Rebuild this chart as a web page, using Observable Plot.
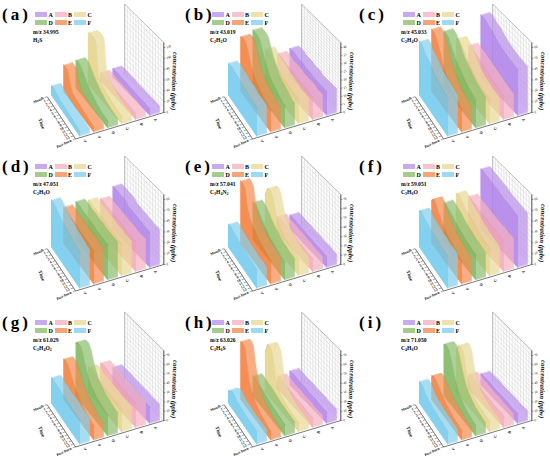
<!DOCTYPE html>
<html><head><meta charset="utf-8">
<script src="https://cdn.jsdelivr.net/npm/d3@7"></script>
<script src="https://cdn.jsdelivr.net/npm/@observablehq/plot@0.6"></script>
<style>
body{margin:0;background:#fff;}
#root{position:relative;width:550px;height:463px;overflow:hidden;font-family:"Liberation Serif",serif;}
.panel{position:absolute;width:184px;height:156px;}
.panel svg{position:absolute;left:0;top:0;overflow:visible;}
.plab{position:absolute;font-family:"Liberation Serif",serif;font-weight:bold;font-size:17px;letter-spacing:3px;line-height:17px;white-space:nowrap;}
.sw{position:absolute;width:12px;height:5px;}
.swt{position:absolute;font-size:6px;font-weight:bold;line-height:6px;}
.mz{position:absolute;font-size:5.6px;font-weight:bold;line-height:6px;white-space:nowrap;}
.mz sub{font-size:4px;vertical-align:-1px;line-height:0;}
</style></head><body><div id="root"></div>
<script>
// ---------------- data ----------------
const series = ["A","B","C","D","E","F"];
const seriesColors = ["#a56fe6","#f39aae","#e2cd76","#69aa44","#f2681a","#5cc1ea"];
const timeLabels = ["Mouth","1","2","3","4","5","6","7","8","9","10","11","12","13","Post-burn"];
const panelLetters = ["a","b","c","d","e","f","g","h","i"];
const mzValues = ["34.995","43.019","45.033","47.051","57.041","59.051","61.029","63.026","71.050"];
const formulas = ["H_2S","C_2H_2O","C_2H_4O","C_2H_6O","C_3H_4N_2","C_3H_6O","C_2H_4O_2","C_2H_6S","C_4H_6O"];
const zTitle = "concentration (ppbv)";

const ticksA = [0,20,40,60,80,100,120];
const ticksB = [0,5,10,15,20,25,30,35,40];
const ticksC = [0,10,20,30,40,50,60];
const ticksD = [0,10,20,30,40,50,60];
const ticksE = [0,10,20,30,40,50,60,70];
const ticksF = [0,10,20,30,40,50,60];
const ticksG = [0,10,20,30,40,50,60,70];
const ticksH = [0,10,20,30,40,50,60,70];
const ticksI = [0,10,20,30,40,50,60,70];

// each panel: rows A..F, 15 time points from "Mouth" (back) to "Post-burn" (front)
const valsA = [
  [17,17,17,16,16,16,15,15,15,14,14,14,14,13,13],
  [16,16,16,15,15,15,14,14,14,13,13,13,12,12,12],
  [96,98,98,96,40,32,28,25,22,20,18,17,16,15,14],
  [52,54,52,46,40,34,30,26,23,20,18,16,15,14,13],
  [50,50,48,30,20,18,17,16,15,14,13,12,12,11,11],
  [18,20,18,16,15,14,14,13,13,12,12,11,11,10,10]];
const valsB = [
  [18,18,18,17,17,17,16,16,16,15,15,15,15,15,15],
  [17,17,17,16,16,16,16,15,15,15,15,15,14,14,14],
  [22,22,21,20,20,19,18,17,17,16,16,15,15,15,15],
  [36,36,36,35,31,27,24,21,19,18,17,16,15,14,14],
  [34,35,35,33,28,24,21,19,18,17,16,15,15,14,14],
  [20,20,21,20,20,20,19,19,19,19,18,18,18,18,18]];
const valsC = [
  [58,58,57,55,54,52,50,48,47,46,45,44,44,43,43],
  [33,33,32,32,31,30,29,28,27,26,25,24,23,22,22],
  [42,44,42,40,37,34,31,29,27,26,25,24,23,23,22],
  [53,53,52,48,44,40,38,36,34,32,30,29,28,27,26],
  [58,58,56,52,46,40,36,32,29,27,25,24,23,22,21],
  [50,50,48,46,45,44,42,40,39,38,38,37,37,36,36]];
const valsD = [
  [40,40,40,39,39,38,36,36,35,35,34,34,33,33,33],
  [32,32,31,31,31,30,30,30,29,29,29,28,28,28,28],
  [34,34,33,33,33,32,32,32,31,31,31,30,30,30,30],
  [36,36,36,35,35,35,34,34,34,33,33,33,33,33,33],
  [34,34,34,33,33,33,33,32,32,32,32,32,31,31,31],
  [44,44,43,41,40,39,38,38,37,36,36,35,35,34,34]];
const valsE = [
  [16,16,16,15,15,15,14,14,14,13,13,13,13,12,12],
  [18,18,17,17,17,16,16,16,15,15,15,14,14,14,14],
  [45,55,56,52,40,32,28,25,23,22,21,20,19,19,18],
  [41,41,40,37,34,31,29,27,25,24,23,22,21,21,20],
  [68,68,66,50,42,38,35,33,31,30,29,28,27,26,25],
  [25,26,25,24,24,23,23,22,22,22,21,21,21,21,20]];
const valsF = [
  [56,56,55,55,54,53,53,52,51,50,50,49,49,48,48],
  [34,34,33,33,32,32,31,31,30,30,30,30,29,29,29],
  [40,41,39,37,35,34,33,31,30,29,28,27,26,26,25],
  [35,35,34,33,32,30,29,28,27,26,25,25,24,24,23],
  [40,44,42,38,35,32,30,28,27,26,25,24,23,22,22],
  [34,36,34,33,33,32,32,31,31,31,30,30,30,30,30]];
const valsG = [
  [20,20,20,20,20,19,19,19,19,19,19,18,18,18,18],
  [28,29,29,28,28,28,27,27,27,27,26,26,26,26,26],
  [28,28,28,27,27,27,26,26,26,26,25,25,25,25,25],
  [58,60,60,55,46,39,34,31,29,27,26,25,24,23,23],
  [44,45,44,40,35,30,27,24,22,20,19,18,17,16,16],
  [28,29,28,28,28,27,27,27,27,27,26,26,26,26,26]];
const valsH = [
  [16,16,16,15,15,15,15,14,14,14,14,13,13,13,13],
  [14,14,14,13,13,13,13,12,12,12,12,11,11,11,11],
  [44,55,55,50,30,22,18,16,14,13,12,11,11,10,10],
  [22,22,21,20,20,19,18,17,16,15,15,14,14,13,13],
  [63,64,62,45,32,25,21,18,16,14,13,12,11,10,10],
  [14,16,19,18,16,15,15,15,14,14,14,14,14,14,14]];
const valsI = [
  [13,13,13,13,13,12,12,12,12,12,12,11,11,11,11],
  [16,16,16,15,15,15,14,14,14,14,13,13,13,13,12],
  [46,54,55,50,34,26,21,18,16,15,14,13,12,12,11],
  [56,58,57,50,40,32,26,22,19,17,15,14,13,12,12],
  [26,28,27,25,22,20,18,16,15,14,13,12,12,11,11],
  [24,24,23,20,18,17,17,16,16,15,15,15,14,14,14]];

const panelVals = [valsA,valsB,valsC,valsD,valsE,valsF,valsG,valsH,valsI];
const panelTicks = [ticksA,ticksB,ticksC,ticksD,ticksE,ticksF,ticksG,ticksH,ticksI];

// ---------------- layout / projection ----------------
const W = 184, H = 156;
const colX = [0, 177, 368], rowY = [0, 152, 308];
const labX = [2, 185, 359];
const GEO = {xb0:51, xbs:12.3, xf0:80, xfs:14, yb0:95, ybs:-3.6, yf0:137, yfs:-4.2,
             zpx:65, wallS:5.95, wallH:70, thick:0.7, layers:10, axisS:-0.35};
function X(s,t){const xb=GEO.xb0+GEO.xbs*s, xf=GEO.xf0+GEO.xfs*s; return xb+(xf-xb)*t;}
function Y(s,t,z,top){const yb=GEO.yb0+GEO.ybs*s, yf=GEO.yf0+GEO.yfs*s; return yb+(yf-yb)*t - z/top*GEO.zpx;}

function lighter(c,a){return d3.color(d3.interpolateRgb(c,"#ffffff")(a)).formatHex();}
function darker(c){return d3.color(c).darker(0.7).formatHex();}

function buildPlot(vals, ticks){
  const zTop = ticks[ticks.length-1];
  const zWall = zTop*GEO.wallH/GEO.zpx;
  const S = GEO.wallS, AX = GEO.axisS;
  const n = timeLabels.length;
  const tPos = timeLabels.map((_,i)=>i/(n-1));
  const gridZ = d3.ticks(0, zWall, 14);
  const marks = [];
  // back wall with grid
  marks.push(Plot.link(tPos,{x1:t=>X(S,t),x2:t=>X(S,t),y1:t=>Y(S,t,0,zTop),y2:t=>Y(S,t,zWall,zTop),stroke:"#d0d0d0",strokeWidth:0.5}));
  marks.push(Plot.link(gridZ,{x1:()=>X(S,0),x2:()=>X(S,1),y1:z=>Y(S,0,z,zTop),y2:z=>Y(S,1,z,zTop),stroke:"#d0d0d0",strokeWidth:0.5}));
  marks.push(Plot.link([0,1],{x1:t=>X(S,t),x2:t=>X(S,t),y1:t=>Y(S,t,0,zTop),y2:t=>Y(S,t,zWall,zTop),stroke:"#999",strokeWidth:0.6}));
  marks.push(Plot.link([zWall],{x1:()=>X(S,0),x2:()=>X(S,1),y1:z=>Y(S,0,z,zTop),y2:z=>Y(S,1,z,zTop),stroke:"#999",strokeWidth:0.6}));
  // ribbons as solid slabs, farthest (A) first
  series.forEach((name,k)=>{
    const s = series.length-1-k;
    const rows = [];
    for (let j=0;j<=GEO.layers;j++){
      const ds = GEO.thick*(GEO.layers-j)/GEO.layers; // far layers first
      vals[k].forEach((v,i)=>rows.push({j, ss:s+ds, t:tPos[i], v}));
    }
    const base = seriesColors[k], top = lighter(base,0.25);
    const near = rows.filter(d=>d.j===GEO.layers), far = rows.filter(d=>d.j===0);
    marks.push(Plot.areaY(rows,{x:d=>X(d.ss,d.t),y1:d=>Y(d.ss,d.t,0,zTop),y2:d=>Y(d.ss,d.t,d.v,zTop),
      z:d=>d.j, fill:top, ariaDescription:"slab"}));
    marks.push(Plot.areaY(near,{x:d=>X(d.ss,d.t),y1:d=>Y(d.ss,d.t,0,zTop),y2:d=>Y(d.ss,d.t,d.v,zTop),
      fill:base, fillOpacity:0.45}));
    marks.push(Plot.line(near,{x:d=>X(d.ss,d.t),y:d=>Y(d.ss,d.t,d.v,zTop),stroke:darker(base),strokeOpacity:0.45,strokeWidth:0.4}));
    marks.push(Plot.line(far,{x:d=>X(d.ss,d.t),y:d=>Y(d.ss,d.t,d.v,zTop),stroke:darker(base),strokeOpacity:0.3,strokeWidth:0.4}));
  });
  // time axis
  marks.push(Plot.link([0],{x1:()=>X(AX,0),y1:()=>Y(AX,0,0,zTop),x2:()=>X(AX,1),y2:()=>Y(AX,1,0,zTop),stroke:"#222",strokeWidth:0.6}));
  marks.push(Plot.link(tPos,{x1:t=>X(AX,t),y1:t=>Y(AX,t,0,zTop),x2:t=>X(AX-0.2,t),y2:t=>Y(AX-0.2,t,0,zTop),stroke:"#222",strokeWidth:0.4}));
  marks.push(Plot.text(timeLabels,{x:(d,i)=>X(AX-0.3,tPos[i]),y:(d,i)=>Y(AX-0.3,tPos[i],0,zTop),text:d=>d,textAnchor:"end",fontSize:3.8,fontWeight:"bold",rotate:-25,fill:"#111"}));
  marks.push(Plot.text(["Time"],{x:()=>X(AX-1.5,0.5),y:()=>Y(AX-1.5,0.5,0,zTop),text:d=>d,fontSize:5,fontWeight:"bold",rotate:70,fill:"#111"}));
  // series axis along the front edge
  marks.push(Plot.link([0],{x1:()=>X(AX,1),y1:()=>Y(AX,1,0,zTop),x2:()=>X(S,1),y2:()=>Y(S,1,0,zTop),stroke:"#222",strokeWidth:0.6}));
  marks.push(Plot.text(series,{x:(d,k)=>X(series.length-1-k+GEO.thick/2,1),y:(d,k)=>Y(series.length-1-k+GEO.thick/2,1,0,zTop)+5,text:d=>d,fontSize:4,fontWeight:"bold",rotate:-70,fill:"#111"}));
  // z axis at front of wall
  marks.push(Plot.link([0],{x1:()=>X(S,1),y1:()=>Y(S,1,0,zTop),x2:()=>X(S,1),y2:()=>Y(S,1,zWall,zTop),stroke:"#222",strokeWidth:0.6}));
  marks.push(Plot.link(ticks,{x1:()=>X(S,1),y1:z=>Y(S,1,z,zTop),x2:()=>X(S,1)+1.6,y2:z=>Y(S,1,z,zTop),stroke:"#222",strokeWidth:0.4}));
  marks.push(Plot.text(ticks,{x:()=>X(S,1)+2.5,y:z=>Y(S,1,z,zTop),text:d=>String(d),textAnchor:"start",fontSize:3.4,rotate:-20,fill:"#222"}));
  marks.push(Plot.text([zTitle],{x:()=>X(S,1)+10.5,y:()=>Y(S,1,zTop*0.48,zTop),text:d=>d,fontSize:6.8,fontWeight:"bold",fontStyle:"italic",rotate:92,fill:"#111"}));
  const svg = Plot.plot({
    width:W, height:H, margin:0,
    x:{domain:[0,W], range:[0,W], axis:null},
    y:{domain:[0,H], range:[0,H], axis:null},
    style:{fontFamily:"Liberation Serif, serif", background:"transparent", overflow:"visible"},
    marks
  });
  svg.querySelectorAll('g[aria-description="slab"]').forEach(g=>g.setAttribute("opacity","0.72"));
  return svg;
}

function formulaHTML(f){return f.replace(/_(\d)/g,"<sub>$1</sub>");}

const root = document.getElementById("root");
panelLetters.forEach((L,p)=>{
  const col = p%3, row = Math.floor(p/3);
  const div = document.createElement("div");
  div.className = "panel";
  div.style.left = colX[col]+"px"; div.style.top = rowY[row]+"px";
  div.appendChild(buildPlot(panelVals[p], panelTicks[p]));
  series.forEach((name,k)=>{
    const r = Math.floor(k/3), c = k%3;
    const sw = document.createElement("div");
    sw.className = "sw";
    sw.style.left = (35+c*19.5)+"px"; sw.style.top = (12+r*8)+"px";
    sw.style.background = seriesColors[k]; sw.style.opacity = 0.6;
    div.appendChild(sw);
    const tx = document.createElement("div");
    tx.className = "swt"; tx.textContent = name;
    tx.style.left = (48.5+c*19.5)+"px"; tx.style.top = (11.5+r*8)+"px";
    div.appendChild(tx);
  });
  const mz = document.createElement("div");
  mz.className = "mz"; mz.textContent = "m/z " + mzValues[p];
  mz.style.left = "33px"; mz.style.top = "29px";
  div.appendChild(mz);
  const fm = document.createElement("div");
  fm.className = "mz"; fm.innerHTML = formulaHTML(formulas[p]);
  fm.style.left = "33px"; fm.style.top = "37px";
  div.appendChild(fm);
  root.appendChild(div);
  const lab = document.createElement("div");
  lab.className = "plab"; lab.textContent = "(" + L + ")";
  lab.style.left = labX[col]+"px"; lab.style.top = (rowY[row]+6)+"px";
  root.appendChild(lab);
});
</script>
</body></html>
